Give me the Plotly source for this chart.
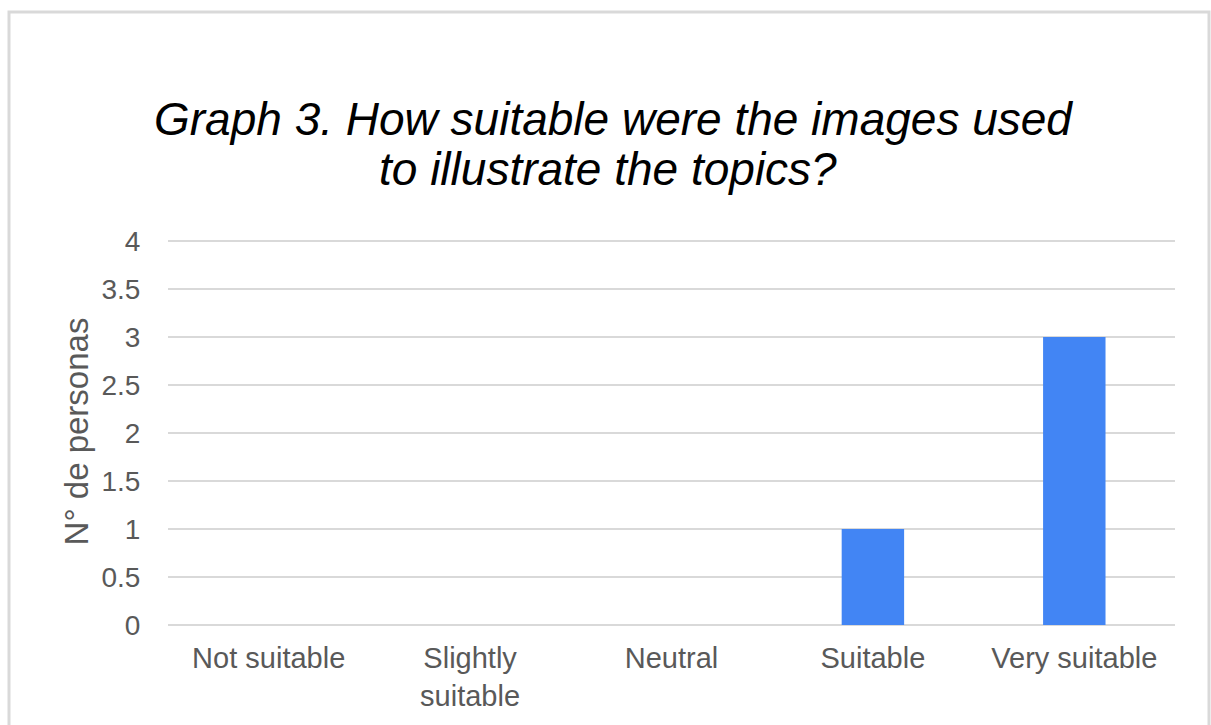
import plotly.graph_objects as go

categories = ["Not suitable", "Slightly<br>suitable", "Neutral", "Suitable", "Very suitable"]
personas = [0, 0, 0, 1, 3]
y_ticks = [0, 0.5, 1, 1.5, 2, 2.5, 3, 3.5, 4]
y_tick_labels = ["0", "0.5", "1", "1.5", "2", "2.5", "3", "3.5", "4"]
title_lines = ["Graph 3. How suitable were the images used", "to illustrate the topics?"]

W, H = 1211, 725
L, R, T, B = 168, 36, 238, 100
pw, ph = W - L - R, H - T - B
Y_MAX = 4.03


def px_x(x):
    return (x - L) / pw


def px_y(y):
    return (H - B - y) / ph


fig = go.Figure(
    go.Bar(
        x=categories,
        y=personas,
        marker=dict(color="#4285f4", line=dict(width=0)),
        hoverinfo="x+y",
    )
)

# two-line italic heading, each line placed on its own
title_annotations = [
    dict(
        text=f"<i>{line}</i>",
        xref="paper",
        yref="paper",
        x=px_x(cx),
        y=px_y(cy),
        xanchor="center",
        yanchor="middle",
        showarrow=False,
        font=dict(size=46, color="#000000", family="Liberation Sans, Arial, sans-serif"),
    )
    for line, cx, cy in zip(title_lines, [613, 608], [119, 169])
]

fig.update_layout(
    width=W,
    height=H,
    margin=dict(l=L, r=R, t=T, b=B),
    paper_bgcolor="white",
    plot_bgcolor="white",
    bargap=0.69,
    showlegend=False,
    font=dict(family="Liberation Sans, Arial, sans-serif", color="#595959"),
    annotations=title_annotations,
    xaxis=dict(
        showgrid=False,
        showline=False,
        zeroline=False,
        tickfont=dict(size=29, color="#595959"),
        ticks="outside",
        ticklen=7,
        tickcolor="rgba(0,0,0,0)",
    ),
    yaxis=dict(
        range=[0, Y_MAX],
        tickvals=y_ticks,
        ticktext=y_tick_labels,
        showgrid=True,
        gridcolor="#d9d9d9",
        gridwidth=2,
        zeroline=True,
        zerolinecolor="#d9d9d9",
        zerolinewidth=2,
        showline=False,
        tickfont=dict(size=28, color="#595959"),
        ticks="outside",
        ticklen=21,
        tickcolor="rgba(0,0,0,0)",
        title=dict(text="N° de personas", font=dict(size=33, color="#595959"), standoff=2),
    ),
    shapes=[
        dict(
            type="rect",
            xref="paper",
            yref="paper",
            x0=px_x(9),
            x1=px_x(1209),
            y0=px_y(740),
            y1=px_y(12),
            line=dict(color="#d9d9d9", width=3),
            fillcolor="rgba(0,0,0,0)",
            layer="below",
        )
    ],
)

fig.write_html("out.html")
